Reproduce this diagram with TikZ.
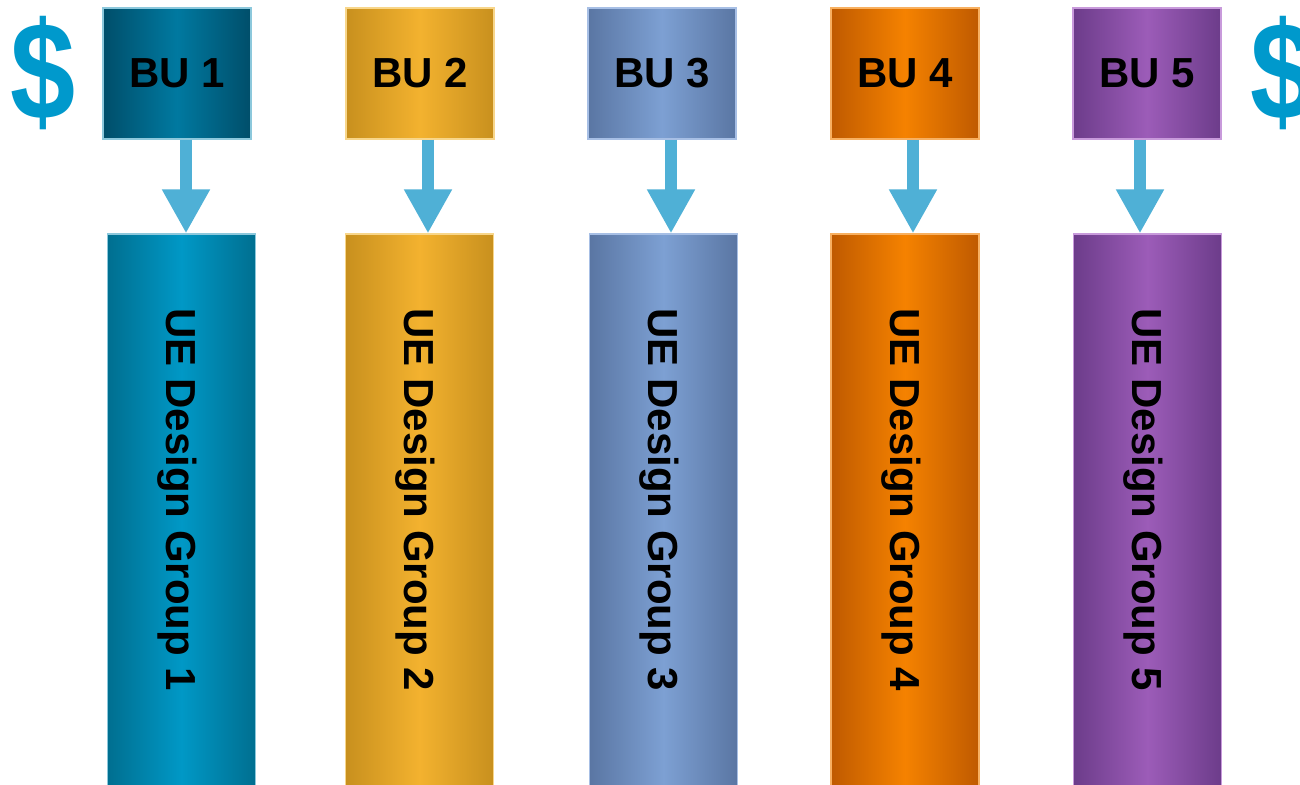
\documentclass[tikz,border=0pt]{standalone}
\usepackage{fontspec}
\setmainfont{Liberation Sans}
\usetikzlibrary{arrows.meta}

\definecolor{dollarblue}{HTML}{0099CC}
\definecolor{flowblue}{HTML}{4FB0D6}
% edge / centre / rim colours of each business unit
\definecolor{bua}{HTML}{004E6A}\definecolor{bub}{HTML}{0079A0}
\definecolor{ca}{HTML}{006F90}\definecolor{cb}{HTML}{0098C6}\definecolor{ra}{HTML}{8CC8DC}
\definecolor{ga}{HTML}{C8901E}\definecolor{gb}{HTML}{F3B22F}\definecolor{rg}{HTML}{F8D68A}
\definecolor{sa}{HTML}{5A76A3}\definecolor{sb}{HTML}{7DA0D3}\definecolor{rs}{HTML}{A7BFE5}
\definecolor{oa}{HTML}{BF5A00}\definecolor{ob}{HTML}{F58200}\definecolor{ro}{HTML}{F8B060}
\definecolor{pa}{HTML}{6C3C8A}\definecolor{pb}{HTML}{9C5CB8}\definecolor{rp}{HTML}{C89ADB}

\tikzset{
  unitbox/.style={rectangle, minimum width=148pt, minimum height=131pt, inner sep=0pt,
    line width=1.2pt, font=\fontsize{42}{50}\selectfont\bfseries},
  groupbar/.style={rectangle, minimum width=148pt, minimum height=552pt, inner sep=0pt,
    line width=1.2pt},
  grouplabel/.style={rotate=-90, inner sep=0pt, font=\fontsize{42}{50}\selectfont\bfseries},
  shade3/.style n args={3}{left color=#1, right color=#1, middle color=#2, draw=#3},
  flow/.style={flowblue, line width=12pt, -{Triangle[width=45pt,length=44pt]}},
  dollar/.style={text=dollarblue, inner sep=0pt, xscale=0.9, yscale=1.07,
    font=\fontsize{130}{150}\selectfont\bfseries}
}

\begin{document}
\begin{tikzpicture}[x=1pt,y=-1pt]
\clip (0,0) rectangle (1300,784);
\fill[white] (0,0) rectangle (1300,784);

% currency markers at both ends
\node[dollar] (dl) at (43.5,73) {\$};
\node[dollar] (dr) at (1283,73) {\$};

% business units
\node[unitbox, shade3={bua}{bub}{ra}] (bu1) at (177,73.5) {BU 1};
\node[unitbox, shade3={ga}{gb}{rg}] (bu2) at (420,73.5) {BU 2};
\node[unitbox, shade3={sa}{sb}{rs}] (bu3) at (662,73.5) {BU 3};
\node[unitbox, shade3={oa}{ob}{ro}] (bu4) at (905,73.5) {BU 4};
\node[unitbox, shade3={pa}{pb}{rp}] (bu5) at (1147,73.5) {BU 5};

% design group bars
\node[groupbar, shade3={ca}{cb}{ra}] (g1) at (181.5,510) {};
\node[groupbar, shade3={ga}{gb}{rg}] (g2) at (419.5,510) {};
\node[groupbar, shade3={sa}{sb}{rs}] (g3) at (663.5,510) {};
\node[groupbar, shade3={oa}{ob}{ro}] (g4) at (905,510) {};
\node[groupbar, shade3={pa}{pb}{rp}] (g5) at (1147.5,510) {};

\node[grouplabel] (t1) at (177.5,500) {UE Design Group 1};
\node[grouplabel] (t2) at (415.5,500) {UE Design Group 2};
\node[grouplabel] (t3) at (659.5,500) {UE Design Group 3};
\node[grouplabel] (t4) at (901,500) {UE Design Group 4};
\node[grouplabel] (t5) at (1143.5,500) {UE Design Group 5};

% unit -> group arrows
\draw[flow] ([xshift=9pt]bu1.south) -- ([xshift=9pt]bu1.south |- g1.north);
\draw[flow] ([xshift=8pt]bu2.south) -- ([xshift=8pt]bu2.south |- g2.north);
\draw[flow] ([xshift=9pt]bu3.south) -- ([xshift=9pt]bu3.south |- g3.north);
\draw[flow] ([xshift=8pt]bu4.south) -- ([xshift=8pt]bu4.south |- g4.north);
\draw[flow] ([xshift=-7pt]bu5.south) -- ([xshift=-7pt]bu5.south |- g5.north);
\end{tikzpicture}
\end{document}
